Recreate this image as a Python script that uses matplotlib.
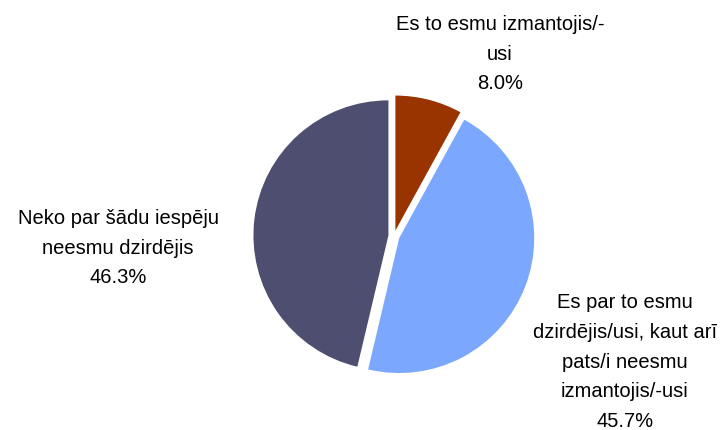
import matplotlib.pyplot as plt

plt.rcParams['font.family'] = ['Liberation Sans', 'DejaVu Sans']

# Data
labels = ["Es to esmu izmantojis/-\nusi",
          "Es par to esmu\ndzirdējis/usi, kaut arī\npats/i neesmu\nizmantojis/-usi",
          "Neko par šādu iespēju\nneesmu dzirdējis"]
shares = [8.0, 45.7, 46.3]
colors = ["#993300", "#7ba7ff", "#4d4e70"]

# label anchor points (pixel coords, y from top)
label_pos = [(500, 54), (625, 362), (118, 248)]

W, H = 726, 430
fig = plt.figure(figsize=(W / 100, H / 100), dpi=100)
ax = fig.add_axes([0, 0, 1, 1])

# explode is in data units here (pixels)
ax.pie(shares, colors=colors, startangle=90, counterclock=False,
       explode=[5.6] * 3, radius=135, center=(394, H - 236),
       frame=True)
ax.set_xlim(0, W)
ax.set_ylim(0, H)
ax.set_aspect("equal")
ax.axis("off")

for lab, val, (x, y) in zip(labels, shares, label_pos):
    ax.text(x, H - y, f"{lab}\n{val:.1f}%", ha="center", va="center",
            fontsize=14.5, linespacing=1.72, color="black")

fig.savefig("out.png", dpi=100)
